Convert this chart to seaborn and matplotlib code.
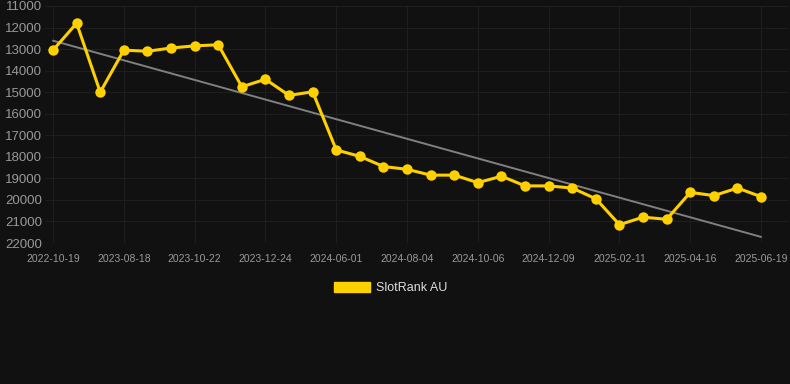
import numpy as np
import pandas as pd
import matplotlib
matplotlib.use('Agg')
import matplotlib.pyplot as plt
from matplotlib.patches import Patch
import seaborn as sns

dates = ['2022-10-19', '', '', '2023-08-18', '', '', '2023-10-22', '', '',
         '2023-12-24', '', '', '2024-06-01', '', '', '2024-08-04', '', '',
         '2024-10-06', '', '', '2024-12-09', '', '', '2025-02-11', '', '',
         '2025-04-16', '', '', '2025-06-19']
ranks = [13050, 11800, 15000, 13050, 13100, 12950, 12850, 12800, 14750, 14400,
         15150, 14980, 17680, 17980, 18450, 18580, 18850, 18850, 19200, 18900,
         19350, 19350, 19450, 19950, 21150, 20800, 20900, 19650, 19800, 19450,
         19850]
y_ticks = [11000, 12000, 13000, 14000, 15000, 16000, 17000, 18000, 19000,
           20000, 21000, 22000]

df = pd.DataFrame({'idx': np.arange(len(ranks)), 'rank': ranks})
coef = np.polyfit(df['idx'], df['rank'], 1)
df['trend'] = np.polyval(coef, df['idx'])

sns.set_style('dark')
plt.rcParams['font.family'] = ['Liberation Sans', 'DejaVu Sans']
bg = '#111111'
fig = plt.figure(figsize=(7.9, 3.84), dpi=100, facecolor=bg)
ax = fig.add_axes([45 / 790, 1 - 243 / 384, 743 / 790, 237 / 384])
ax.set_facecolor(bg)

sns.lineplot(data=df, x='idx', y='trend', color='#808080', linewidth=1.4, ax=ax)
sns.lineplot(data=df, x='idx', y='rank', color='#FFD000', linewidth=2.2,
             marker='o', markersize=7.5, markeredgewidth=0, ax=ax)

ax.set_ylim(22000, 11000)
ax.set_xlim(-0.34, 31.14)
ax.set_yticks(y_ticks)
ax.set_yticklabels([str(v) for v in y_ticks], color='#999999', fontsize=9.5)
tick_pos = [i for i, d in enumerate(dates) if d]
ax.set_xticks(tick_pos)
ax.set_xticklabels([dates[i] for i in tick_pos], color='#999999', fontsize=7.5)
ax.tick_params(axis='y', length=0, pad=2)
ax.tick_params(axis='x', length=5, color='#2a2a2a', pad=3)
ax.grid(True, color='#1e1e1e', linewidth=0.8)
for s in ax.spines.values():
    s.set_visible(False)
ax.axhline(22000, color='#2a2a2a', linewidth=0.8)
ax.set_xlabel('')
ax.set_ylabel('')

leg = ax.legend(handles=[Patch(color='#FFD000', label='SlotRank AU')], loc='center',
                bbox_to_anchor=(0.465, -0.19), frameon=False,
                handlelength=2.9, handleheight=0.9, handletextpad=0.5, fontsize=9)
for t in leg.get_texts():
    t.set_color('#dddddd')

fig.savefig('out.png', dpi=100, facecolor=bg)
